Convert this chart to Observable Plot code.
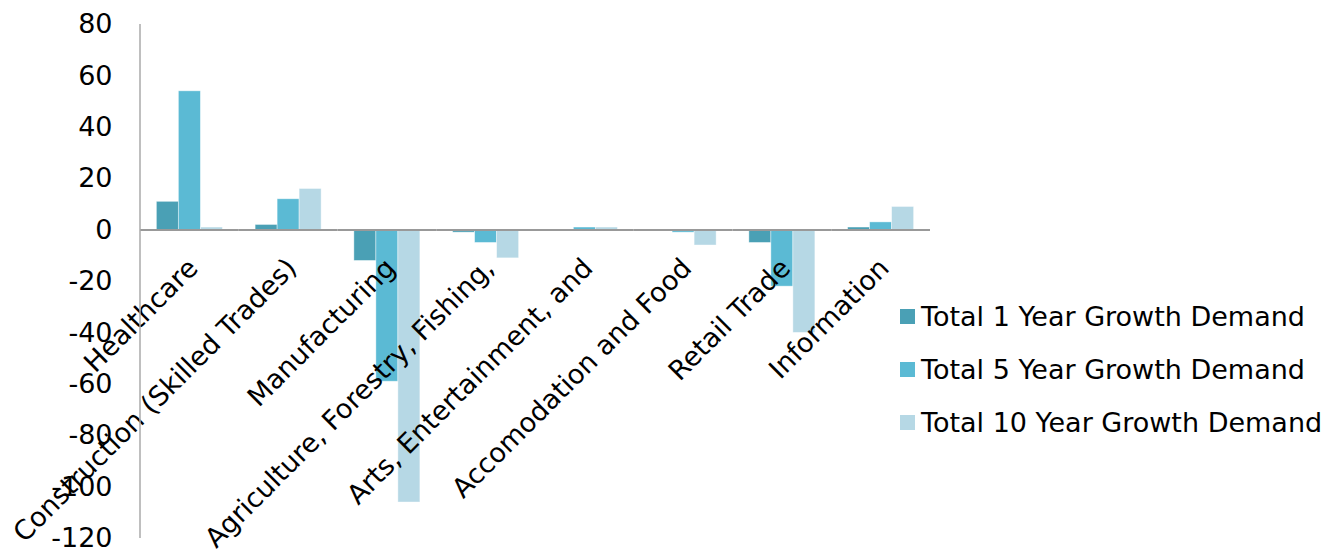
<!DOCTYPE html>
<html>
<head>
<meta charset="utf-8">
<script src="https://cdn.jsdelivr.net/npm/d3@7"></script>
<script src="https://cdn.jsdelivr.net/npm/@observablehq/plot@0.6"></script>
<style>
  html, body { margin: 0; padding: 0; background: #fff; }
  #wrap { position: relative; width: 1325px; height: 550px; font-family: "DejaVu Sans", Verdana, sans-serif; }
  #legend { position: absolute; left: 900px; top: 290px; }
  .item { display: flex; align-items: center; height: 53px; font-size: 27px; color: #000; white-space: nowrap; }
  .sw { width: 15px; height: 15px; margin-right: 6px; }
</style>
</head>
<body>
<div id="wrap"></div>
<script>
const categories = ["Healthcare", "Construction (Skilled Trades)", "Manufacturing", "Agriculture, Forestry, Fishing,", "Arts, Entertainment, and", "Accomodation and Food", "Retail Trade", "Information"];
const seriesNames = ["Total 1 Year Growth Demand", "Total 5 Year Growth Demand", "Total 10 Year Growth Demand"];
const oneYear = [11, 2, -12, -1, 0, 0, -5, 1];
const fiveYear = [54, 12, -59, -5, 1, -1, -22, 3];
const tenYear = [1, 16, -106, -11, 1, -6, -40, 9];
const yTicks = [-120, -100, -80, -60, -40, -20, 0, 20, 40, 60, 80];
const colors = ["#4aa0b5", "#5bbad4", "#b6d8e5"];

const seriesValues = [oneYear, fiveYear, tenYear];
const rows = [];
categories.forEach((c, i) => {
  seriesNames.forEach((s, j) => rows.push({category: c, series: s, value: seriesValues[j][i]}));
});

const marginLeft = 140, marginTop = 24, marginBottom = 12;
const chart = Plot.plot({
  width: 1325,
  height: 550,
  marginLeft,
  marginRight: 395,
  marginTop,
  marginBottom,
  style: {fontFamily: "DejaVu Sans, Verdana, sans-serif", fontSize: "27px", color: "#000", background: "#fff", overflow: "visible"},
  fx: {domain: categories, padding: 0, round: false, axis: null, label: null},
  x: {domain: seriesNames, paddingInner: 0, paddingOuter: 0.744, round: false, axis: null},
  y: {domain: [-120, 80], ticks: yTicks, tickFormat: d => String(d), label: null},
  color: {domain: seriesNames, range: colors},
  marks: [
    Plot.axisY({ticks: yTicks, tickSize: 0, tickPadding: 28, fontSize: 27, label: null, tickFormat: d => String(d)}),
    Plot.barY(rows, {fx: "category", x: "series", y: "value", fill: "series", stroke: "#ffffff", strokeOpacity: 0.5, strokeWidth: 0.8}),
    Plot.ruleY([0], {stroke: "#999", strokeWidth: 2}),
    Plot.text(categories, {fx: d => d, y: () => 0, text: d => d, rotate: -45, textAnchor: "end", lineAnchor: "top", dx: -4, dy: 26, fontSize: 27, fill: "#000"})
  ]
});

// vertical value axis line, positioned through the y scale
const ys = chart.scale("y");
d3.select(chart).append("line")
  .attr("x1", marginLeft).attr("x2", marginLeft)
  .attr("y1", ys.apply(80)).attr("y2", ys.apply(-120))
  .attr("stroke", "#aaa").attr("stroke-width", 1.5);

const wrap = document.getElementById("wrap");
wrap.appendChild(chart);

const legend = document.createElement("div");
legend.id = "legend";
seriesNames.forEach((s, i) => {
  const item = document.createElement("div");
  item.className = "item";
  const sw = document.createElement("span");
  sw.className = "sw";
  sw.style.background = colors[i];
  item.appendChild(sw);
  item.appendChild(document.createTextNode(s));
  legend.appendChild(item);
});
wrap.appendChild(legend);
</script>
</body>
</html>
